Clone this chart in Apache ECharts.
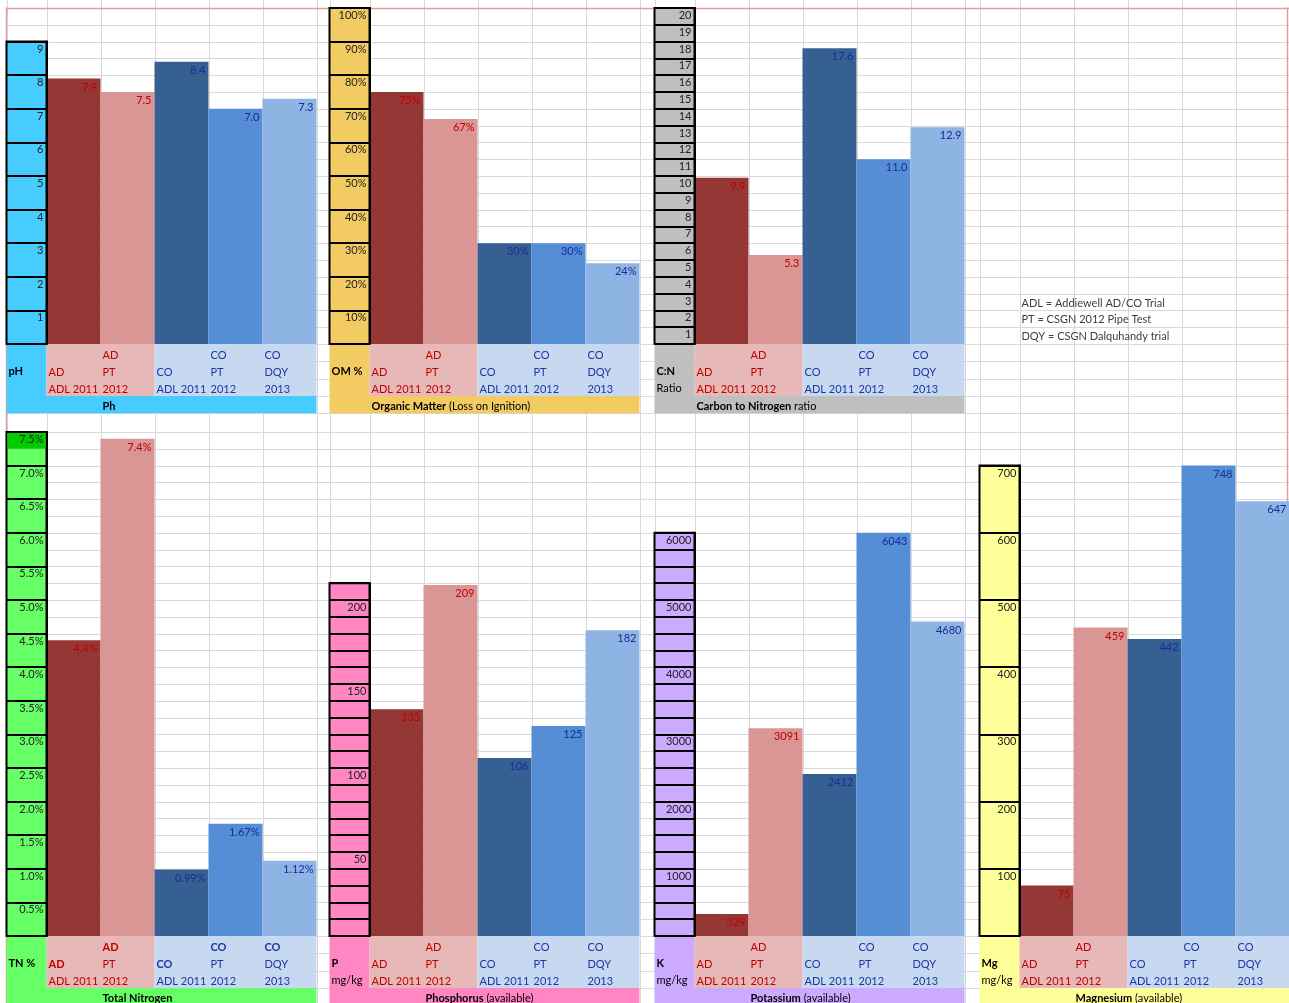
<!DOCTYPE html>
<html><head><meta charset="utf-8">
<script src="https://cdn.jsdelivr.net/npm/echarts@6/dist/echarts.min.js"></script>
<style>html,body{margin:0;padding:0;background:#fff}#c{width:1289px;height:1003px}</style>
</head><body><div id="c"></div>
<script>
// ---------------- DATA ----------------
const categories = ['AD ADL 2011', 'AD PT 2012', 'CO ADL 2011', 'CO PT 2012', 'CO DQY 2013'];
const catType  = ['AD', 'AD', 'CO', 'CO', 'CO'];
const catLine1 = ['', 'AD', '', 'CO', 'CO'];
const catLine2 = ['AD', 'PT', 'CO', 'PT', 'DQY'];
const catLine3 = ['ADL 2011', '2012', 'ADL 2011', '2012', '2013'];

const phValues = [7.9, 7.5, 8.4, 7.0, 7.3];
const omValues = [75, 67, 30, 30, 24];
const cnValues = [9.9, 5.3, 17.6, 11.0, 12.9];
const tnValues = [4.4, 7.4, 0.99, 1.67, 1.12];
const pValues  = [135, 209, 106, 125, 182];
const kValues  = [329, 3091, 2412, 6043, 4680];
const mgValues = [75, 459, 442, 748, 647];

const notes = ['ADL = Addiewell AD/CO Trial', 'PT = CSGN 2012 Pipe Test', 'DQY = CSGN Dalquhandy trial'];

// ---------------- LAYOUT / STYLE ----------------
const FONT = 'Lato, "Open Sans", sans-serif';
const ROW = 16.8, LROW = 17.3, AXW = 40, COLW = 54;
const secLeft = [6.5, 329.5, 654.5, 979.5];
const barColors = ['#953735', '#D99694', '#376092', '#558ED5', '#8EB4E3'];
const typeText = { AD: '#C00000', CO: '#2035A0' };
const valText = { AD: '#C00000', CO: '#1A2A9A' };
const typeBg = { AD: '#E6B9B8', CO: '#C6D9F1' };
const GRIDC = '#D9D9D9';

const charts = [
  { values: phValues, sec: 0, bottom: 344, rows: 18, max: 9, interval: 1, every: 1, fill: '#47CCFF',
    axisFmt: v => String(v), valFmt: v => v.toFixed(1), head: ['pH', ''], title: ['Ph', ''], titleCol: 1 },
  { values: omValues, sec: 1, bottom: 344, rows: 20, max: 100, interval: 10, every: 10, fill: '#F2CB62',
    axisFmt: v => v + '%', valFmt: v => v + '%', head: ['OM %', ''], title: ['Organic Matter', ' (Loss on Ignition)'], titleCol: 0 },
  { values: cnValues, sec: 2, bottom: 344, rows: 20, max: 20, interval: 1, every: 1, fill: '#BFBFBF',
    axisFmt: v => String(v), valFmt: v => v.toFixed(1), head: ['C:N', 'Ratio'], title: ['Carbon to Nitrogen', ' ratio'], titleCol: 0 },
  { values: tnValues, sec: 0, bottom: 936, rows: 30, max: 7.5, interval: 0.5, every: 0.5, fill: '#66FF66',
    axisFmt: v => v.toFixed(1) + '%', valFmt: v => v + '%', head: ['TN %', ''], title: ['Total Nitrogen', ''], titleCol: 1, boldType: true },
  { values: pValues, sec: 1, bottom: 936, rows: 21, max: 210, interval: 10, every: 50, fill: '#FF86C2',
    axisFmt: v => String(v), valFmt: v => String(v), head: ['P', 'mg/kg'], title: ['Phosphorus', ' (available)'], titleCol: 1 },
  { values: kValues, sec: 2, bottom: 936, rows: 24, max: 6000, interval: 250, every: 1000, fill: '#CCAAFF',
    axisFmt: v => String(v), valFmt: v => String(v), head: ['K', 'mg/kg'], title: ['Potassium', ' (available)'], titleCol: 1 },
  { values: mgValues, sec: 3, bottom: 936, rows: 28, max: 700, interval: 100, every: 100, fill: '#FFFF99',
    axisFmt: v => String(v), valFmt: v => String(v), head: ['Mg', 'mg/kg'], title: ['Magnesium', ' (available)'], titleCol: 1 }
];

// ---------------- BACKGROUND SPREADSHEET GRID ----------------
const els = [];
const crisp = v => Math.round(v) + 0.5;
function hline(y, x1, x2, color, w, z) {
  els.push({ type: 'line', silent: true, z: z, shape: { x1: x1, y1: crisp(y), x2: x2, y2: crisp(y) }, style: { stroke: color, lineWidth: w } });
}
function vline(x, y1, y2, color, w, z) {
  els.push({ type: 'line', silent: true, z: z, shape: { x1: crisp(x), y1: y1, x2: crisp(x), y2: y2 }, style: { stroke: color, lineWidth: w } });
}
function rect(x, y, w, h, fill, z, stroke, lw) {
  els.push({ type: 'rect', silent: true, z: z, shape: { x: x, y: y, width: w, height: h },
    style: stroke ? { fill: fill, stroke: stroke, lineWidth: lw } : { fill: fill } });
}
function text(x, y, t, opts) {
  opts = opts || {};
  els.push({ type: 'text', silent: true, z: 4, style: { x: x, y: y, text: t, fill: opts.fill || '#000',
    font: (opts.bold ? 'bold ' : '') + '11px ' + FONT, verticalAlign: 'middle', align: 'left', rich: opts.rich } });
}

const rowsY = [];
for (let k = 0; k <= 20; k++) rowsY.push(8 + k * ROW);
for (let k = 1; k <= 4; k++) rowsY.push(344 + k * LROW);
for (let k = 0; k <= 30; k++) rowsY.push(432 + k * ROW);
for (let k = 1; k <= 3; k++) rowsY.push(936 + k * LROW);
rowsY.forEach(y => hline(y, 6.5, 1289, GRIDC, 1, 0));
secLeft.forEach(L => {
  vline(L, 0, 1003, GRIDC, 1, 0);
  vline(L + AXW, 0, 1003, GRIDC, 1, 0);
  for (let j = 1; j <= 5; j++) vline(L + AXW + j * COLW, 0, 1003, GRIDC, 1, 0);
});
// page border lines
hline(7.5, 6, 1289, '#E59C9C', 1.5, 0);
vline(6, 7.5, 1003, '#E59C9C', 1.5, 0);
vline(1287, 7.5, 1003, '#E59C9C', 1.5, 0);

// notes
notes.forEach((t, k) => text(secLeft[3] + AXW + 2, 8 + ROW * (17 + k) + 9.5, t, { fill: '#404040' }));

// ---------------- CHARTS ----------------
const grids = [], xAxes = [], yAxes = [], series = [];
const isMultiple = (v, e) => Math.abs(v / e - Math.round(v / e)) < 1e-6;

charts.forEach((c, i) => {
  const L = secLeft[c.sec];
  const top = c.bottom - c.rows * ROW;
  const height = c.rows * ROW;
  grids.push({ left: L + AXW, top: top, width: 5 * COLW, height: height, containLabel: false, outerBoundsMode: 'none' });

  // decorations for this chart
  rect(L, top, AXW, height, c.fill, 1, '#000', 2);               // axis column
  if (c.boldType) rect(L + 1, top + 1, AXW - 2, ROW - 1, '#00CC00', 2);
  rect(L, c.bottom, AXW, 3 * LROW, c.fill, 1);                   // header cell
  rect(L, c.bottom + 3 * LROW, AXW + 5 * COLW, LROW, c.fill, 1);   // title row
  rect(L + AXW, c.bottom, 2 * COLW, 3 * LROW, typeBg.AD, 1);
  rect(L + AXW + 2 * COLW, c.bottom, 3 * COLW, 3 * LROW, typeBg.CO, 1);
  if (c.head[0]) text(L + 2, c.bottom + LROW * 1.5 + 1.5, c.head[0], { bold: true });
  if (c.head[1]) text(L + 2, c.bottom + LROW * 2.5 + 1.5, c.head[1]);
  text(L + AXW + c.titleCol * COLW + 2, c.bottom + LROW * 3.5 + 1.5,
    '{b|' + c.title[0] + '}' + (c.title[1] ? '{n|' + c.title[1] + '}' : ''),
    { rich: { b: { fontWeight: 'bold', fontSize: 11, fontFamily: FONT, fill: '#000' }, n: { fontSize: 11, fontFamily: FONT, fill: '#000' } } });

  const tokenStyle = (color, bold) => ({ color: color, fontSize: 11, fontFamily: FONT, fontWeight: bold ? 'bold' : 'normal',
    width: 50, align: 'left', lineHeight: LROW, height: LROW, verticalAlign: 'middle' });

  xAxes.push({
    type: 'category', gridIndex: i, data: categories, z: 3,
    axisLine: { show: false }, axisTick: { show: false }, splitLine: { show: false },
    axisLabel: {
      interval: 0, margin: 2.5, lineHeight: LROW,
      formatter: (v, idx) => {
        const t = catType[idx] === 'AD' ? 'r' : 'b';
        const l1 = catLine1[idx] || '\u00a0';
        const l2 = catLine2[idx];
        const bold1 = c.boldType && catLine1[idx] ? 'B' : '';
        const bold2 = c.boldType && !catLine1[idx] ? 'B' : '';
        return '{' + t + bold1 + '|' + l1 + '}\n{' + t + bold2 + '|' + l2 + '}\n{' + t + '|' + catLine3[idx] + '}';
      },
      rich: {
        r: tokenStyle(typeText.AD, false), rB: tokenStyle(typeText.AD, true),
        b: tokenStyle(typeText.CO, false), bB: tokenStyle(typeText.CO, true)
      }
    }
  });

  yAxes.push({
    type: 'value', gridIndex: i, min: 0, max: c.max, interval: c.interval, z: 3,
    axisLine: { show: true, lineStyle: { color: '#000', width: 2 } },
    axisTick: { show: true, length: AXW, lineStyle: { color: '#000', width: 2 } },
    splitLine: { show: false },
    axisLabel: {
      margin: 3, verticalAlign: 'top', padding: [2, 0, 0, 0], fontSize: 11, fontFamily: FONT, color: '#222',
      formatter: v => (v === 0 || !isMultiple(v, c.every)) ? '' : c.axisFmt(v)
    }
  });

  series.push({
    type: 'bar', xAxisIndex: i, yAxisIndex: i, barCategoryGap: '0%', z: 2, clip: true,
    data: c.values.map((v, k) => ({
      value: v,
      itemStyle: { color: barColors[k] },
      label: { color: valText[catType[k]] }
    })),
    label: {
      show: true, position: 'insideTopRight', distance: 3, fontSize: 11, fontFamily: FONT,
      formatter: p => c.valFmt(p.value)
    },
    emphasis: { disabled: true }
  });
});

const chart = echarts.init(document.getElementById('c'), null, { renderer: 'canvas' });
chart.setOption({
  animation: false,
  backgroundColor: '#fff',
  grid: grids,
  xAxis: xAxes,
  yAxis: yAxes,
  series: series,
  graphic: { elements: els }
});
</script>
</body></html>
